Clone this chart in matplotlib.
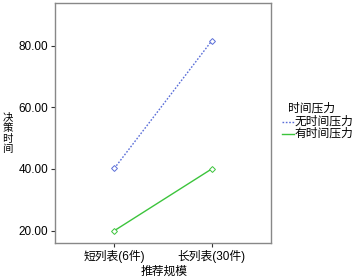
import matplotlib
matplotlib.use("Agg")
import matplotlib.pyplot as plt
from matplotlib.lines import Line2D

plt.rcParams['font.family'] = ['Liberation Sans', 'Noto Sans CJK SC', 'DejaVu Sans']

categories = ["短列表(6件)", "长列表(30件)"]
no_pressure = [40.2, 81.5]
with_pressure = [20.0, 40.0]
series_names = ["无时间压力", "有时间压力"]
legend_title = "时间压力"
y_label = "决策时间"
x_label = "推荐规模"

W, H = 353, 278
fig = plt.figure(figsize=(W / 100, H / 100), dpi=100)
ax = fig.add_axes([55 / W, 35 / H, 216 / W, 240 / H])

blue = "#5a6ed8"
green = "#3cc43c"
styles = [dict(color=blue, linestyle=(0, (1.2, 1.2))), dict(color=green, linestyle="-")]

x = list(range(len(categories)))
for vals, name, st in zip([no_pressure, with_pressure], series_names, styles):
    ax.plot(x, vals, linewidth=1.0, marker="D", markersize=3, markerfacecolor="white",
            markeredgewidth=0.7, label=name, **st)

ax.set_xlim(-0.61, 1.61)
ax.set_ylim(16.0, 93.8)
ax.set_xticks(x)
ax.set_xticklabels(categories, fontsize=8.5)
ax.set_yticks([20, 40, 60, 80])
ax.set_yticklabels(["20.00", "40.00", "60.00", "80.00"], fontsize=8.5)
ax.tick_params(direction="out", length=3, width=0.8, color="#333333", pad=2)

for s in ax.spines.values():
    s.set_color("#888888")
    s.set_linewidth(1.0)

fig.text(164 / W, 1 - 271.5 / H, x_label, fontsize=8.5, ha="center", va="center")

# vertical y label, one character per row
for i, ch in enumerate(y_label):
    fig.text(7.5 / W, 1 - (120.5 + i * 10.5) / H, ch, fontsize=7.5,
             family="Noto Sans CJK SC", ha="center", va="baseline")

# legend drawn by hand to get the tight SPSS spacing
fig.text(288 / W, 1 - 109 / H, legend_title, fontsize=8.5, ha="left", va="center")
for i, (name, st) in enumerate(zip(series_names, styles)):
    yy = 1 - (122 + i * 11.5) / H
    fig.add_artist(Line2D([282 / W, 294 / W], [yy, yy], linewidth=1.0,
                          transform=fig.transFigure, **st))
    fig.text(295 / W, yy, name, fontsize=8.5, ha="left", va="center")

fig.savefig("out.png", dpi=100)
